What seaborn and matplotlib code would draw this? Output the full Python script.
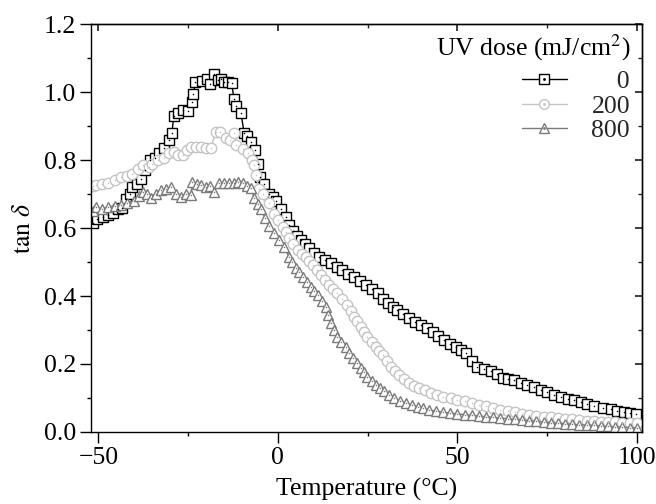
import numpy as np
import pandas as pd
import matplotlib
matplotlib.use("Agg")
import matplotlib.pyplot as plt
import seaborn as sns
from matplotlib.ticker import MultipleLocator
from matplotlib.legend_handler import HandlerTuple

# ---- data ----
temp_0 = [-51.5, -50.4, -48.8, -47.4, -45.8, -44.5, -43.5, -42.3, -41.2, -40.5, -39.3, -38.2, -37.0, -35.6,
          -34.2, -33.0, -31.7, -30.4, -29.5, -29.0, -27.7, -26.5, -25.0, -24.0, -23.5, -23.0, -21.0, -19.8,
          -18.9, -17.8, -16.7, -15.8, -15.0, -13.8, -12.9, -12.2, -11.7, -10.3, -9.4, -8.5, -7.5, -6.4, -5.5,
          -5.0, -3.9, -2.5, -1.3, -0.5, 0.8, 2.2, 3.2, 4.1, 5.2, 6.4, 7.5, 8.7, 10.0, 11.4, 13.0, 14.8, 16.4,
          18.0, 19.6, 21.2, 22.8, 24.5, 26.2, 27.8, 29.2, 30.6, 32.0, 33.3, 35.0, 36.6, 38.2, 39.8, 41.5,
          43.1, 44.7, 46.3, 48.0, 49.5, 51.0, 52.5, 54.0, 55.6, 57.5, 59.3, 61.0, 62.6, 64.2, 65.8, 67.6,
          69.5, 71.4, 73.3, 75.0, 76.9, 78.8, 80.7, 82.5, 84.4, 86.2, 88.0, 90.5, 92.8, 94.5, 96.4, 98.0, 99.7]
tan_0 = [0.615, 0.626, 0.632, 0.638, 0.645, 0.655, 0.66, 0.685, 0.70, 0.72, 0.73, 0.745, 0.77, 0.80,
         0.805, 0.82, 0.835, 0.86, 0.88, 0.93, 0.94, 0.947, 0.945, 0.97, 0.995, 1.03, 1.033, 1.04,
         1.024, 1.053, 1.035, 1.04, 1.03, 1.03, 1.027, 0.98, 0.96, 0.94, 0.88, 0.87, 0.853, 0.83, 0.79,
         0.75, 0.73, 0.70, 0.69, 0.68, 0.655, 0.633, 0.61, 0.59, 0.578, 0.565, 0.552, 0.54, 0.528, 0.515,
         0.505, 0.497, 0.486, 0.476, 0.466, 0.457, 0.445, 0.432, 0.42, 0.408, 0.39, 0.378, 0.368, 0.359,
         0.346, 0.334, 0.324, 0.315, 0.305, 0.295, 0.283, 0.27, 0.26, 0.25, 0.24, 0.232, 0.21, 0.19,
         0.185, 0.18, 0.17, 0.158, 0.155, 0.153, 0.145, 0.138, 0.131, 0.124, 0.117, 0.109, 0.102, 0.096,
         0.093, 0.089, 0.082, 0.076, 0.071, 0.067, 0.063, 0.06, 0.057, 0.053]

temp_200 = [-51.5, -50.7, -49.0, -47.4, -45.5, -43.7, -42.0, -40.5, -39.0, -37.7, -36.0, -35.0, -33.5,
            -31.7, -30.3, -29.0, -27.8, -26.5, -25.3, -24.2, -22.8, -21.4, -20.0, -18.7, -17.3, -16.2,
            -14.5, -13.4, -12.3, -11.7, -9.8, -8.4, -7.3, -6.7, -6.1, -5.3, -4.0, -2.5, -1.1, 0.1, 1.3,
            2.2, 3.1, 4.3, 5.5, 6.7, 7.8, 8.8, 9.7, 10.8, 12.0, 13.1, 14.2, 15.4, 16.6, 18.0, 19.4, 20.3,
            21.2, 22.1, 23.1, 24.0, 24.9, 26.1, 27.3, 28.3, 29.2, 30.4, 31.5, 32.7, 33.8, 35.2, 36.5, 37.9,
            39.3, 41.0, 42.6, 44.3, 45.9, 48.2, 50.0, 52.0, 54.0, 56.0, 58.0, 60.0, 62.0, 64.0, 66.0, 68.0,
            70.0, 72.0, 74.0, 76.0, 78.0, 80.0, 82.0, 84.0, 86.0, 88.0, 90.0, 92.0, 94.0, 96.0, 98.0, 100.0]
tan_200 = [0.725, 0.726, 0.73, 0.733, 0.74, 0.75, 0.753, 0.76, 0.775, 0.785, 0.78, 0.79, 0.80,
           0.805, 0.82, 0.825, 0.815, 0.815, 0.83, 0.838, 0.84, 0.838, 0.835, 0.835, 0.883, 0.883,
           0.865, 0.86, 0.88, 0.844, 0.834, 0.82, 0.80, 0.785, 0.756, 0.715, 0.70, 0.673, 0.64, 0.625,
           0.604, 0.588, 0.57, 0.552, 0.535, 0.525, 0.515, 0.502, 0.49, 0.476, 0.462, 0.447, 0.432, 0.42,
           0.408, 0.39, 0.374, 0.356, 0.339, 0.325, 0.31, 0.295, 0.28, 0.265, 0.25, 0.238, 0.226, 0.21,
           0.192, 0.18, 0.168, 0.156, 0.144, 0.136, 0.129, 0.122, 0.115, 0.109, 0.104, 0.10, 0.095, 0.09,
           0.085, 0.08, 0.075, 0.07, 0.066, 0.062, 0.058, 0.054, 0.05, 0.047, 0.045, 0.043, 0.041, 0.039,
           0.037, 0.035, 0.033, 0.031, 0.03, 0.029, 0.028, 0.027, 0.026, 0.025]

temp_800 = [-51.5, -50.7, -49.0, -47.4, -45.5, -43.7, -42.0, -40.0, -38.8, -37.7, -36.5, -35.4, -34.0,
            -32.6, -31.2, -29.8, -28.4, -27.0, -25.6, -24.2, -23.8, -22.6, -21.4, -20.0, -18.8, -17.8,
            -16.4, -15.0, -13.6, -12.2, -11.0, -9.8, -8.6, -7.5, -6.6, -5.6, -4.7, -3.6, -2.5, -1.1, 0.3,
            1.7, 3.1, 4.0, 5.0, 6.0, 6.9, 8.0, 9.2, 10.2, 11.1, 12.2, 13.4, 14.1, 14.8, 15.7, 16.6, 17.7,
            18.9, 19.8, 20.8, 22.0, 23.1, 24.0, 24.9, 26.1, 27.3, 28.4, 29.6, 31.0, 32.4, 34.0, 35.7, 37.3,
            38.9, 40.5, 42.1, 44.0, 46.0, 48.0, 50.0, 52.0, 54.0, 56.0, 58.0, 60.0, 62.0, 64.0, 66.0, 68.0,
            70.0, 72.0, 74.0, 76.0, 78.0, 80.0, 82.0, 84.0, 86.0, 88.0, 90.0, 92.0, 94.0, 96.0, 98.0, 100.0]
tan_800 = [0.65, 0.663, 0.655, 0.663, 0.665, 0.668, 0.675, 0.68, 0.695, 0.707, 0.70, 0.688, 0.70,
           0.712, 0.715, 0.72, 0.70, 0.692, 0.70, 0.697, 0.736, 0.73, 0.726, 0.72, 0.725, 0.707,
           0.733, 0.732, 0.732, 0.732, 0.735, 0.732, 0.725, 0.717, 0.688, 0.672, 0.655, 0.63, 0.605, 0.585,
           0.565, 0.545, 0.515, 0.50, 0.482, 0.47, 0.457, 0.442, 0.427, 0.415, 0.403, 0.385, 0.368, 0.345,
           0.32, 0.30, 0.28, 0.265, 0.25, 0.233, 0.217, 0.202, 0.187, 0.175, 0.163, 0.15, 0.138, 0.128,
           0.119, 0.109, 0.099, 0.091, 0.084, 0.079, 0.074, 0.069, 0.065, 0.061, 0.058, 0.056, 0.053,
           0.051, 0.049, 0.047, 0.045, 0.043, 0.041, 0.039, 0.037, 0.035, 0.033, 0.031, 0.029, 0.027,
           0.026, 0.024, 0.022, 0.021, 0.02, 0.019, 0.017, 0.016, 0.015, 0.014, 0.013, 0.012]

doses = ["0", "200", "800"]
x_ticks = [-50, 0, 50, 100]
y_ticks = [0.0, 0.2, 0.4, 0.6, 0.8, 1.0, 1.2]

# ---- style ----
sns.set_theme(style="ticks")
plt.rcParams["font.family"] = ["Liberation Serif", "DejaVu Serif"]
plt.rcParams["mathtext.fontset"] = "stix"
plt.rcParams["axes.linewidth"] = 1.0

FS = 18.5

fig = plt.figure(figsize=(6.56, 5.04), dpi=100)
ax = fig.add_axes([0.139, 0.143, 0.840, 0.809])

series = [
    (temp_0, tan_0, "s", "#000000", doses[0]),
    (temp_200, tan_200, "o", "#c4c4c4", doses[1]),
    (temp_800, tan_800, "^", "#7a7a7a", doses[2]),
]

handles = []
labels = []
for tx, ty, mk, col, lab in series:
    df = pd.DataFrame({"T": tx, "tan": ty})
    sns.lineplot(data=df, x="T", y="tan", ax=ax, sort=False, estimator=None,
                 color=col, linewidth=1.0, marker=mk, markersize=7.5,
                 markerfacecolor="white", markeredgecolor=col, markeredgewidth=1.0,
                 legend=False)
    sns.scatterplot(data=df, x="T", y="tan", ax=ax, color=col, s=1.2,
                    linewidth=0, legend=False, zorder=5)
    h1 = plt.Line2D([], [], color=col, linewidth=1.0, marker=mk, markersize=7.0,
                    markerfacecolor="white", markeredgecolor=col, markeredgewidth=1.0)
    h2 = plt.Line2D([], [], linestyle="none", marker="o", markersize=1.0, color=col)
    handles.append((h1, h2))
    labels.append("\u2007" * (3 - len(lab)) + lab)

ax.set_xlim(-52, 101.5)
ax.set_ylim(0, 1.2)
ax.set_xticks(x_ticks)
ax.set_yticks(y_ticks)
ax.set_xticklabels([str(v) if v >= 0 else "\u2212" + str(-v) for v in x_ticks])
ax.set_yticklabels([f"{v:.1f}" for v in y_ticks])
ax.xaxis.set_minor_locator(MultipleLocator(25))
ax.yaxis.set_minor_locator(MultipleLocator(0.1))
ax.tick_params(axis="both", which="major", direction="out", length=8, width=1.0,
               labelsize=FS, color="black", labelcolor="black", pad=3)
ax.tick_params(axis="both", which="minor", direction="out", length=3, width=1.0, color="black")

for sp in ax.spines.values():
    sp.set_visible(True)
    sp.set_color("black")
    sp.set_linewidth(1.0)

secx = ax.secondary_xaxis("top")
secx.set_xticks(x_ticks)
secx.xaxis.set_minor_locator(MultipleLocator(25))
secx.tick_params(which="major", direction="in", length=5, labeltop=False)
secx.tick_params(which="minor", direction="in", length=3)
secy = ax.secondary_yaxis("right")
secy.set_yticks(y_ticks)
secy.yaxis.set_minor_locator(MultipleLocator(0.1))
secy.tick_params(which="major", direction="in", length=5, labelright=False)
secy.tick_params(which="minor", direction="in", length=3)

ax.set_xlabel("Temperature (°C)", fontsize=FS, color="black", labelpad=6)
ax.set_ylabel(r"$\tan\,\delta$", fontsize=FS, color="black", labelpad=6)

# legend title as text, entries as legend below it
ax.text(0.978, 0.924, "UV dose (mJ/cm$^2$)", transform=ax.transAxes, ha="right",
        va="baseline", fontsize=FS, color="black")
leg = ax.legend(handles, labels, loc="upper right", bbox_to_anchor=(0.978, 0.887),
                frameon=False, fontsize=FS,
                handlelength=1.75, handletextpad=0.97, labelspacing=0.05,
                borderaxespad=0.0, borderpad=0.0,
                handler_map={tuple: HandlerTuple(ndivide=1)})

fig.savefig("out.png", dpi=100)
